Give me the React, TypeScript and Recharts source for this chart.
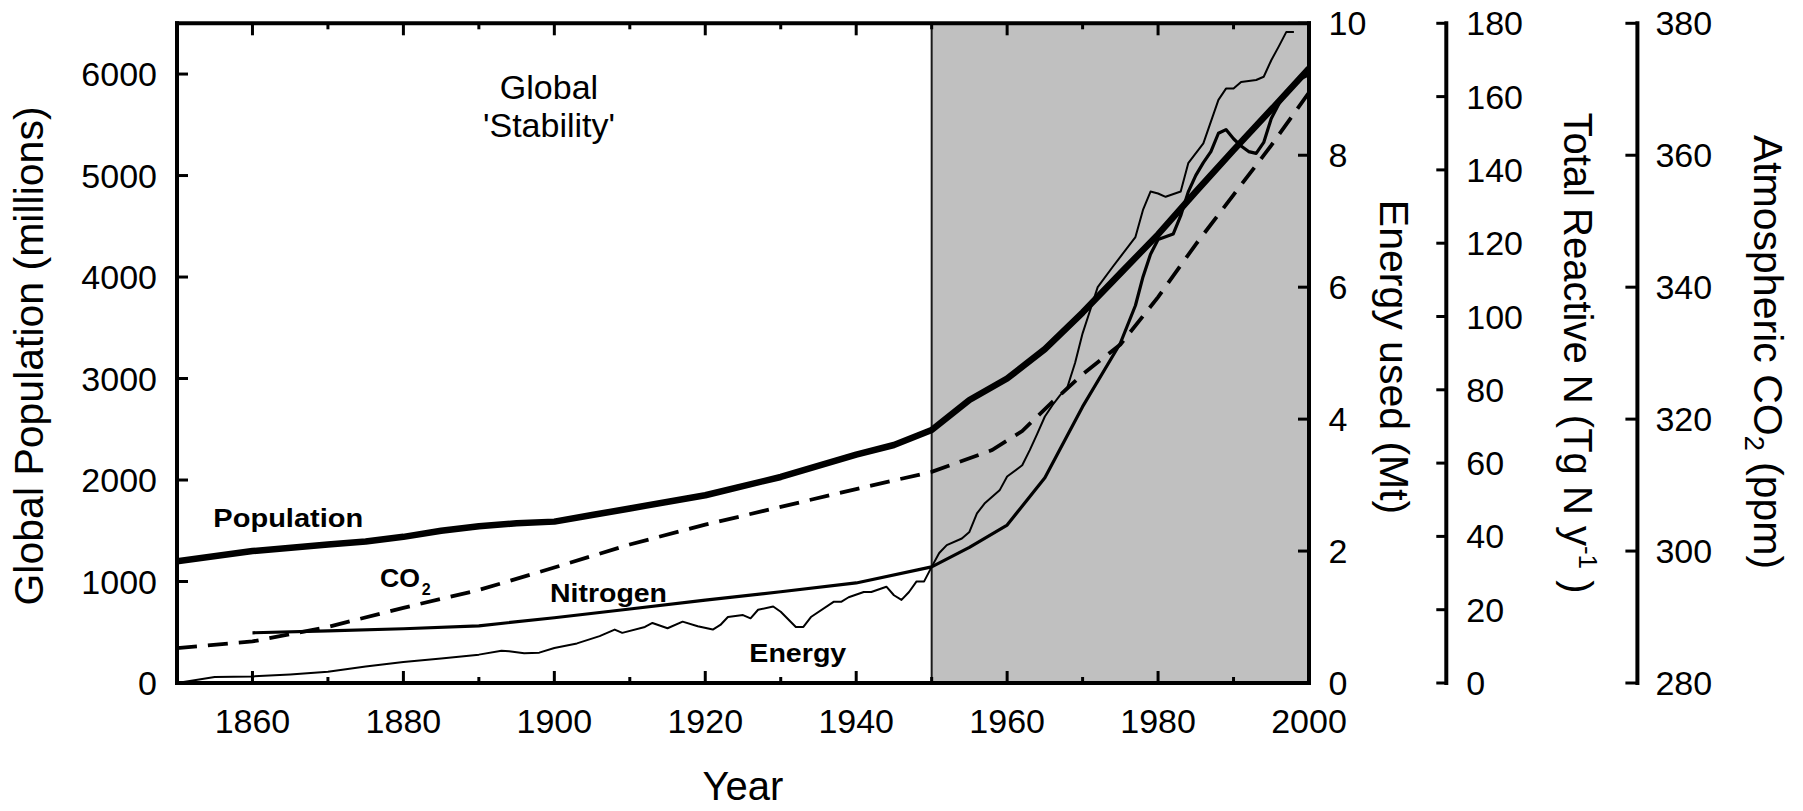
import { ComposedChart, Line, XAxis, YAxis, ReferenceArea, ReferenceLine } from 'recharts'

const FONT = 'Liberation Sans, Arial, Helvetica, sans-serif'

// [year, value] pairs
const population: [number, number][] = [
  [1850, 1200], [1860, 1300], [1870, 1365], [1875, 1395], [1880, 1440], [1885, 1500],
  [1890, 1545], [1895, 1573], [1900, 1590], [1905, 1655], [1910, 1720], [1920, 1850],
  [1930, 2030], [1940, 2250], [1945, 2345], [1950, 2493], [1955, 2788], [1960, 3000],
  [1965, 3290], [1970, 3650], [1975, 4036], [1980, 4420], [1985, 4840], [1990, 5250],
  [1995, 5650], [2000, 6056],
]

const co2: [number, number][] = [
  [1850, 285.3], [1860, 286.3], [1870, 288.5], [1880, 291.4], [1890, 294.1], [1900, 297.5],
  [1910, 301], [1920, 304], [1930, 306.7], [1940, 309.4], [1950, 312], [1958, 315.3],
  [1962, 318.2], [1966, 322.6], [1970, 326.8], [1975, 331.3], [1980, 338.5], [1985, 346.5],
  [1990, 354], [1995, 361.5], [2000, 369.5],
]

const nitrogen: [number, number][] = [
  [1860, 13.7], [1870, 14.2], [1880, 14.8], [1890, 15.6], [1900, 17.8], [1910, 20.2],
  [1920, 22.6], [1930, 24.9], [1940, 27.3], [1950, 31.7], [1955, 37], [1960, 43.1],
  [1965, 56], [1970, 75.4], [1975, 92.7], [1977, 103], [1978, 110.8], [1979, 117],
  [1980, 121], [1982, 122.5], [1983, 127.5], [1984, 134], [1985, 138.5], [1986, 142],
  [1987, 145], [1988, 150], [1989, 151], [1990, 148.5], [1991, 146.5], [1992, 145],
  [1993, 144.5], [1994, 147.5], [1995, 154], [1996, 158], [1997, 161], [1998, 163.5],
  [1999, 165], [2000, 166],
]

const energy: [number, number][] = [
  [1850, 0], [1855, 0.09], [1860, 0.1], [1865, 0.13], [1870, 0.17], [1875, 0.25],
  [1880, 0.32], [1885, 0.37], [1890, 0.43], [1893, 0.49], [1894, 0.48], [1896, 0.45],
  [1898, 0.46], [1900, 0.53], [1903, 0.6], [1906, 0.71], [1908, 0.81], [1909, 0.76],
  [1912, 0.85], [1913, 0.91], [1915, 0.83], [1917, 0.93], [1919, 0.86], [1921, 0.81],
  [1922, 0.88], [1923, 1.0], [1925, 1.03], [1926, 0.98], [1927, 1.11], [1929, 1.16],
  [1930, 1.08], [1932, 0.85], [1933, 0.85], [1934, 1.0], [1937, 1.23], [1938, 1.23],
  [1939, 1.3], [1941, 1.38], [1942, 1.38], [1944, 1.46], [1945, 1.33], [1946, 1.26],
  [1947, 1.38], [1948, 1.54], [1949, 1.54], [1950, 1.76], [1951, 1.97], [1952, 2.09],
  [1954, 2.19], [1955, 2.29], [1956, 2.57], [1957, 2.72], [1959, 2.92], [1960, 3.13],
  [1962, 3.3], [1963, 3.53], [1964, 3.78], [1965, 4.04], [1966, 4.21], [1967, 4.36],
  [1968, 4.49], [1969, 4.85], [1970, 5.3], [1971, 5.65], [1972, 6.0], [1974, 6.31],
  [1975, 6.46], [1977, 6.76], [1978, 7.17], [1979, 7.45], [1980, 7.42], [1981, 7.37],
  [1983, 7.45], [1984, 7.88], [1986, 8.18], [1988, 8.84], [1989, 9.01], [1990, 9.01],
  [1991, 9.11], [1993, 9.14], [1994, 9.19], [1995, 9.44], [1996, 9.65], [1997, 9.87],
  [1998, 9.87],
]

const yearTicks = [1860, 1870, 1880, 1890, 1900, 1910, 1920, 1930, 1940, 1950, 1960, 1970, 1980, 1990, 2000]
const popTicks = [0, 1000, 2000, 3000, 4000, 5000, 6000]
const energyTicks = [0, 2, 4, 6, 8, 10]
const nitrogenTicks = [0, 20, 40, 60, 80, 100, 120, 140, 160, 180]
const co2Ticks = [280, 300, 320, 340, 360, 380]

const toRows = (s: [number, number][]) => s.map(([year, value]) => ({ year, value }))

const tickStroke = { stroke: '#000', strokeWidth: 3 }
const axisLine = { stroke: '#000', strokeWidth: 4, strokeLinecap: 'square' as const }

function BottomTick({ x, y, payload }: any) {
  const major = payload.value % 20 === 0
  return (
    <g>
      <line x1={x} x2={x} y1={y} y2={y - (major ? 12 : 6)} {...tickStroke} />
      {major && (
        <text x={x} y={y + 49.5} textAnchor="middle" fontSize={34} fontFamily={FONT} fill="#000">
          {payload.value}
        </text>
      )}
    </g>
  )
}

function TopTick({ x, y, payload }: any) {
  const major = payload.value % 20 === 0
  return <line x1={x} x2={x} y1={y} y2={y + (major ? 12 : 6)} {...tickStroke} />
}

function LeftTick({ x, y, payload }: any) {
  return (
    <g>
      <line x1={x} x2={x + 11} y1={y} y2={y} {...tickStroke} />
      <text x={x - 20} y={y + 12} textAnchor="end" fontSize={34} fontFamily={FONT} fill="#000">
        {payload.value}
      </text>
    </g>
  )
}

const rightTick = (len: number, gap: number) =>
  function RightTick({ x, y, payload }: any) {
    return (
      <g>
        <line x1={x - len} x2={x} y1={y} y2={y} {...tickStroke} />
        <text x={x + gap} y={y + 12} textAnchor="start" fontSize={34} fontFamily={FONT} fill="#000">
          {payload.value}
        </text>
      </g>
    )
  }

const EnergyTick = rightTick(11, 19.5)
const NitrogenTick = rightTick(10, 20)
const Co2Tick = rightTick(12, 18)

// right-hand axes are stacked in id order, so the ids carry a prefix
const ENERGY = 'r1-energy'
const NITROGEN = 'r2-nitrogen'
const CO2 = 'r3-co2'

export default function App() {
  return (
    <ComposedChart width={1795} height={803} margin={{ top: 5.3, right: 0, bottom: 0, left: 0 }}>
      <XAxis
        xAxisId="bottom"
        dataKey="year"
        type="number"
        domain={[1850, 2000]}
        ticks={yearTicks}
        interval={0}
        height={128}
        tickSize={0}
        tickMargin={0}
        tickLine={false}
        axisLine={axisLine}
        tick={<BottomTick />}
        allowDataOverflow
      />
      <XAxis
        xAxisId="top"
        orientation="top"
        dataKey="year"
        type="number"
        domain={[1850, 2000]}
        ticks={yearTicks}
        interval={0}
        height={10}
        tickSize={0}
        tickMargin={0}
        tickLine={false}
        axisLine={axisLine}
        tick={<TopTick />}
        allowDataOverflow
      />
      <YAxis
        yAxisId="pop"
        orientation="left"
        type="number"
        domain={[0, 6500]}
        ticks={popTicks}
        interval={0}
        width={169}
        tickSize={0}
        tickMargin={0}
        tickLine={false}
        axisLine={axisLine}
        tick={<LeftTick />}
        allowDataOverflow
      />
      <YAxis
        yAxisId={ENERGY}
        orientation="right"
        type="number"
        domain={[0, 10]}
        ticks={energyTicks}
        interval={0}
        width={137.3}
        tickSize={0}
        tickMargin={0}
        tickLine={false}
        axisLine={axisLine}
        tick={<EnergyTick />}
        allowDataOverflow
      />
      <YAxis
        yAxisId={NITROGEN}
        orientation="right"
        type="number"
        domain={[0, 180]}
        ticks={nitrogenTicks}
        interval={0}
        width={191.1}
        tickSize={0}
        tickMargin={0}
        tickLine={false}
        axisLine={axisLine}
        tick={<NitrogenTick />}
        allowDataOverflow
      />
      <YAxis
        yAxisId={CO2}
        orientation="right"
        type="number"
        domain={[280, 380]}
        ticks={co2Ticks}
        interval={0}
        width={165.6}
        tickSize={0}
        tickMargin={0}
        tickLine={false}
        axisLine={axisLine}
        tick={<Co2Tick />}
        allowDataOverflow
      />

      <ReferenceArea xAxisId="bottom" yAxisId="pop" x1={1950} x2={2000} y1={0} y2={6500} fill="#c0c0c0" fillOpacity={1} stroke="none" />
      <ReferenceLine xAxisId="bottom" yAxisId="pop" x={1950} stroke="#1a1a1a" strokeWidth={2} />

      <Line xAxisId="bottom" yAxisId={ENERGY} data={toRows(energy)} dataKey="value" type="linear"
        stroke="#000" strokeWidth={2} dot={false} isAnimationActive={false} strokeLinejoin="round" />
      <Line xAxisId="bottom" yAxisId={NITROGEN} data={toRows(nitrogen)} dataKey="value" type="linear"
        stroke="#000" strokeWidth={3.2} dot={false} isAnimationActive={false} strokeLinejoin="round" />
      <Line xAxisId="bottom" yAxisId={CO2} data={toRows(co2)} dataKey="value" type="linear"
        stroke="#000" strokeWidth={3.8} strokeDasharray="20 11" dot={false} isAnimationActive={false} />
      <Line xAxisId="bottom" yAxisId="pop" data={toRows(population)} dataKey="value" type="linear"
        stroke="#000" strokeWidth={6.5} dot={false} isAnimationActive={false} strokeLinejoin="round" />

      <g fontFamily={FONT} fill="#000">
        <text x={541} y={90.5} textAnchor="middle" fontSize={34}>Global</text>
        <text x={541} y={128.5} textAnchor="middle" fontSize={34}>'Stability'</text>
        <text x={1115.4} y={90.5} textAnchor="middle" fontSize={34}>Global</text>
        <text x={1115.4} y={128.5} textAnchor="middle" fontSize={34}>Change</text>

        <text x={205.3} y={519} fontSize={26} fontWeight="bold" textLength={150} lengthAdjust="spacingAndGlyphs">Population</text>
        <text x={372} y={578.7} fontSize={25} fontWeight="bold" textLength={40} lengthAdjust="spacingAndGlyphs">CO</text>
        <text x={413.7} y={587} fontSize={16} fontWeight="bold">2</text>
        <text x={542} y={593.7} fontSize={26} fontWeight="bold" textLength={117} lengthAdjust="spacingAndGlyphs">Nitrogen</text>
        <text x={741.3} y={653.7} fontSize={26} fontWeight="bold" textLength={97} lengthAdjust="spacingAndGlyphs">Energy</text>

        <text x={734.8} y={792} textAnchor="middle" fontSize={40}>Year</text>
        <text transform="translate(35,348) rotate(-90)" textAnchor="middle" fontSize={41}>Global Population (millions)</text>
        <text transform="translate(1372,349) rotate(90)" textAnchor="middle" fontSize={41}>Energy used (Mt)</text>
        <text transform="translate(1556,345) rotate(90)" textAnchor="middle" fontSize={40}>
          Total Reactive N (Tg N y<tspan dy={-15} fontSize={26}>-1</tspan><tspan dy={15}> )</tspan>
        </text>
        <text transform="translate(1746,344) rotate(90)" textAnchor="middle" fontSize={41}>
          Atmospheric CO<tspan dy={9} fontSize={27}>2</tspan><tspan dy={-9}> (ppm)</tspan>
        </text>
      </g>
    </ComposedChart>
  )
}
